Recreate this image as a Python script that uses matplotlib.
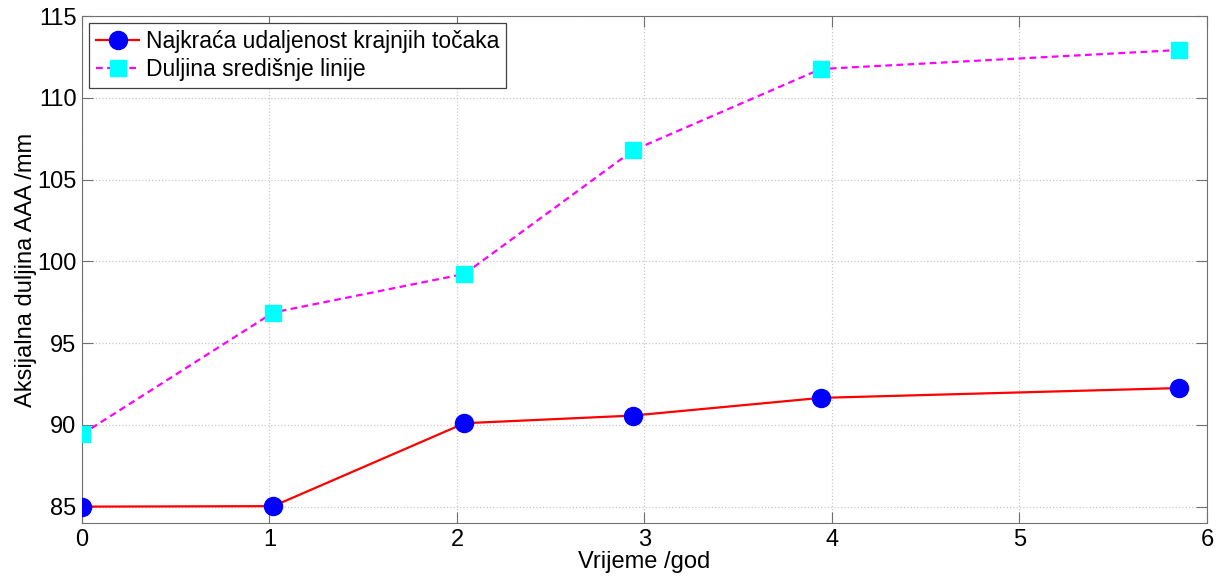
import matplotlib.pyplot as plt
import numpy as np

plt.rcParams['font.family'] = ['Liberation Sans', 'DejaVu Sans']

# vrijeme (godine)
t = [0, 1.02, 2.04, 2.94, 3.94, 5.85]
# najkraca udaljenost krajnjih tocaka
najkraca = [85.0, 85.03, 90.1, 90.57, 91.65, 92.25]
# duljina sredisnje linije
srednja = [89.43, 96.87, 99.23, 106.79, 111.76, 112.92]

xticks = [0, 1, 2, 3, 4, 5, 6]
yticks = [85, 90, 95, 100, 105, 110, 115]

fig = plt.figure(figsize=(12.22, 5.82), dpi=100)
ax = fig.add_axes([0.0671, 0.1014, 0.9206, 0.8711])

ax.plot(t, najkraca, '-', color='red', lw=1.6, marker='o', ms=13,
        mfc='blue', mec='blue', label='Najkraća udaljenost krajnjih točaka', zorder=3)
ax.plot(t, srednja, '--', color='magenta', lw=1.6, dashes=(3, 2), marker='s', ms=11,
        mfc='cyan', mec='cyan', label='Duljina središnje linije', zorder=3)

ax.set_xlim(0, 6)
ax.set_ylim(84, 115)
ax.set_xticks(xticks)
ax.set_yticks(yticks)
ax.grid(True, linestyle=':', color='#c8c8c8', lw=0.9)
ax.tick_params(direction='in', length=8, top=True, right=True, color='#707070',
               labelsize=17, pad=4)
for s in ax.spines.values():
    s.set_color('#707070')

ax.set_xlabel('Vrijeme /god', fontsize=17, labelpad=0)
ax.set_ylabel('Aksijalna duljina AAA /mm', fontsize=17, labelpad=0)

leg = ax.legend(loc='upper left', fontsize=16.5, fancybox=False, framealpha=1,
                edgecolor='#404040', borderaxespad=0.3, handlelength=1.9,
                handletextpad=0.3, borderpad=0.3, labelspacing=0.25)
leg.get_frame().set_linewidth(0.9)

fig.savefig('out.png', dpi=100)
